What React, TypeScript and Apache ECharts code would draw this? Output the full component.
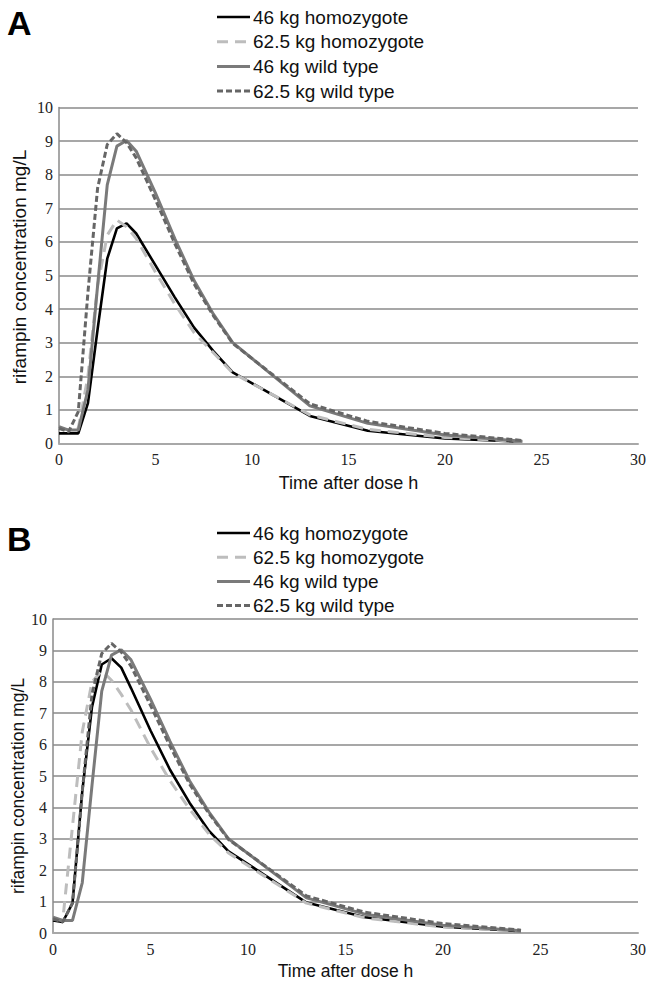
import React, { useEffect, useRef } from "react";
import * as echarts from "echarts";

// Sampling times (h)
const times = [0, 0.5, 1, 1.5, 2, 2.5, 3, 3.5, 4, 5, 6, 7, 8, 9, 13, 16, 20, 24];

const seriesNames = [
  "46 kg homozygote",
  "62.5 kg homozygote",
  "46 kg wild type",
  "62.5 kg wild type",
];

// Panel A — rifampin concentration mg/L
const aHomo46 = [0.3, 0.3, 0.3, 1.2, 3.4, 5.5, 6.4, 6.55, 6.25, 5.3, 4.35, 3.45, 2.75, 2.12, 0.82, 0.38, 0.15, 0.05];
const aHomo625 = [0.45, 0.4, 0.45, 2.0, 4.7, 6.2, 6.65, 6.45, 6.1, 5.1, 4.15, 3.3, 2.7, 2.1, 0.85, 0.42, 0.18, 0.06];
// Panel B — homozygotes
const bHomo46 = [0.4, 0.35, 0.95, 4.5, 7.2, 8.55, 8.75, 8.45, 7.8, 6.45, 5.2, 4.15, 3.25, 2.6, 0.97, 0.5, 0.2, 0.06];
const bHomo625 = [0.45, 0.4, 3.4, 6.4, 8.0, 8.35, 8.05, 7.6, 7.1, 5.9, 4.85, 3.95, 3.15, 2.55, 0.95, 0.48, 0.19, 0.06];
// Wild type (same in both panels)
const wild46 = [0.5, 0.4, 0.4, 1.6, 4.7, 7.7, 8.85, 9.02, 8.7, 7.45, 6.1, 4.85, 3.85, 3.0, 1.12, 0.6, 0.25, 0.07];
const wild625 = [0.45, 0.35, 0.95, 4.5, 7.6, 8.9, 9.22, 8.95, 8.5, 7.25, 5.95, 4.75, 3.8, 2.98, 1.18, 0.66, 0.3, 0.09];

const xTitle = "Time after dose h";
const yTitle = "rifampin concentration mg/L";
const panelLabels = ["A", "B"];

const lineStyles = [
  { color: "#000000", width: 2.6, dash: null as number[] | null },
  { color: "#bdbdbd", width: 3, dash: [11, 7] },
  { color: "#7a7a7a", width: 3, dash: null as number[] | null },
  { color: "#666666", width: 3, dash: [6, 3] },
];

const SANS = "'Liberation Sans', Arial, sans-serif";
const SERIF = "'Liberation Serif', 'Times New Roman', serif";

function pairs(vals: number[]) {
  return times.map((t, i) => [t, vals[i]]);
}

function makeSeries(panel: number, sets: number[][]) {
  return sets.map((vals, i) => ({
    name: seriesNames[i],
    type: "line",
    xAxisIndex: panel,
    yAxisIndex: panel,
    data: pairs(vals),
    showSymbol: false,
    symbol: "none",
    lineStyle: {
      color: lineStyles[i].color,
      width: lineStyles[i].width,
      type: lineStyles[i].dash ? lineStyles[i].dash : "solid",
    },
    itemStyle: { color: lineStyles[i].color },
    z: 2 + i,
  }));
}

function xAxisCfg(grid: number, nameGap: number, fontSize: number) {
  return {
    type: "value",
    gridIndex: grid,
    min: 0,
    max: 30,
    interval: 5,
    name: xTitle,
    nameLocation: "middle",
    nameGap,
    nameTextStyle: { fontFamily: SANS, fontSize, color: "#111" },
    axisLine: { show: true, lineStyle: { color: "#a8a8a8", width: 2 } },
    axisTick: { show: false },
    splitLine: { show: false },
    axisLabel: { fontFamily: SERIF, fontSize: 16, color: "#222", margin: 8 },
  };
}

function yAxisCfg(grid: number) {
  return {
    type: "value",
    gridIndex: grid,
    min: 0,
    max: 10,
    interval: 1,
    axisLine: { show: true, lineStyle: { color: "#8a8a8a", width: 1.5 } },
    axisTick: { show: false },
    splitLine: { show: true, lineStyle: { color: "#8a8a8a", width: 1.5 } },
    axisLabel: { fontFamily: SERIF, fontSize: 16, color: "#222", margin: 6 },
  };
}

function legendGraphics(firstRowY: number, rowGap: number) {
  const items: any[] = [];
  seriesNames.forEach((name, i) => {
    const y = firstRowY + i * rowGap;
    const st = lineStyles[i];
    items.push({
      type: "line",
      shape: { x1: 217, y1: y, x2: 250, y2: y },
      style: {
        stroke: st.color,
        lineWidth: st.width,
        lineDash: st.dash || null,
      },
    });
    items.push({
      type: "text",
      x: 253,
      y,
      style: {
        text: name,
        font: "19px " + SANS,
        fill: "#111",
        align: "left",
        verticalAlign: "middle",
      },
    });
  });
  return items;
}

export default function App() {
  const ref = useRef<HTMLDivElement>(null);

  useEffect(() => {
    if (!ref.current) return;
    const chart = echarts.init(ref.current, null, { renderer: "svg" });
    chart.setOption({
      animation: false,
      backgroundColor: "#ffffff",
      grid: [
        { left: 59, top: 107.5, width: 582, height: 336 },
        { left: 53, top: 619, width: 588, height: 314 },
      ],
      xAxis: [xAxisCfg(0, 30, 18), xAxisCfg(1, 29, 17.5)],
      yAxis: [yAxisCfg(0), yAxisCfg(1)],
      graphic: [
        ...legendGraphics(17, 24.7),
        ...legendGraphics(533, 24.2),
        {
          type: "text",
          x: 7,
          y: 23,
          style: {
            text: panelLabels[0],
            font: "bold 34px " + SANS,
            fill: "#000",
            verticalAlign: "middle",
          },
        },
        {
          type: "text",
          x: 7,
          y: 539,
          style: {
            text: panelLabels[1],
            font: "bold 34px " + SANS,
            fill: "#000",
            verticalAlign: "middle",
          },
        },
        {
          type: "text",
          x: 19,
          y: 267,
          rotation: Math.PI / 2,
          style: {
            text: yTitle,
            font: "19px " + SANS,
            fill: "#111",
            align: "center",
            verticalAlign: "middle",
          },
        },
        {
          type: "text",
          x: 18,
          y: 786,
          rotation: Math.PI / 2,
          style: {
            text: yTitle,
            font: "17.5px " + SANS,
            fill: "#111",
            align: "center",
            verticalAlign: "middle",
          },
        },
      ],
      series: [
        ...makeSeries(0, [aHomo46, aHomo625, wild46, wild625]),
        ...makeSeries(1, [bHomo46, bHomo625, wild46, wild625]),
      ],
    });
    return () => chart.dispose();
  }, []);

  return (
    <div
      ref={ref}
      style={{ position: "absolute", left: 0, top: 0, width: 649, height: 988 }}
    />
  );
}
